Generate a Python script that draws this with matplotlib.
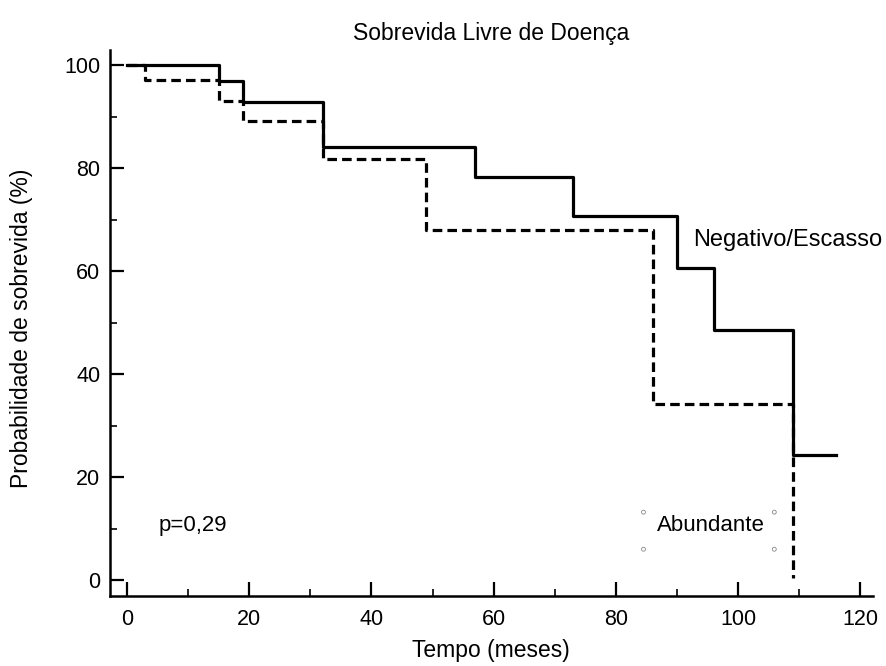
import numpy as np
import matplotlib.pyplot as plt
from matplotlib.ticker import MultipleLocator

plt.rcParams['font.family'] = ['Liberation Sans', 'DejaVu Sans']

# Kaplan-Meier steps
neg_t = [0, 15, 19, 32, 57, 73, 90, 96, 109, 116]
neg_s = [100, 96.9, 92.9, 84.2, 78.4, 70.7, 60.6, 48.5, 24.3, 24.3]
abu_t = [0, 3, 15, 19, 32, 49, 86, 109]
abu_s = [100, 97.1, 93.1, 89.2, 81.8, 68.1, 34.2, 0.5]

fig = plt.figure(figsize=(8.86, 6.66), dpi=100)
ax = fig.add_axes([0.124, 0.105, 0.861, 0.82])

ax.step(neg_t, neg_s, where='post', color='black', lw=2.3)
ax.step(abu_t, abu_s, where='post', color='black', lw=2.3, ls=(0, (3, 1.6)))

ax.set_xlim(-2.8, 122)
ax.set_ylim(-3.1, 103)
ax.xaxis.set_minor_locator(MultipleLocator(10))
ax.yaxis.set_minor_locator(MultipleLocator(10))
ax.set_xticks(np.arange(0, 121, 20))
ax.set_yticks(np.arange(0, 101, 20))
ax.tick_params(which='major', direction='in', length=10, width=1.6, labelsize=15.5, pad=7)
ax.tick_params(axis='x', which='major', pad=9)
ax.tick_params(which='minor', direction='in', length=5, width=1.2)
for s in ['top', 'right']:
    ax.spines[s].set_visible(False)
for s in ['left', 'bottom']:
    ax.spines[s].set_linewidth(1.8)

ax.set_title('Sobrevida Livre de Doença', fontsize=16.5, pad=7)
ax.set_xlabel('Tempo (meses)', fontsize=16.5, labelpad=7)
ax.set_ylabel('Probabilidade de sobrevida (%)', fontsize=16.5)
ax.yaxis.set_label_coords(-0.101, 0.49)

ax.text(92.7, 66, 'Negativo/Escasso', fontsize=17, va='center')
ax.text(86.7, 10.7, 'Abundante', fontsize=16, va='center')
ax.text(5.1, 10.7, 'p=0,29', fontsize=16, va='center')
ax.scatter([84.5, 105.9, 84.5, 105.9], [13.2, 13.2, 6, 6], s=8, facecolors='none',
           edgecolors='#888888', linewidths=0.6)

fig.savefig('out.png', dpi=100)
